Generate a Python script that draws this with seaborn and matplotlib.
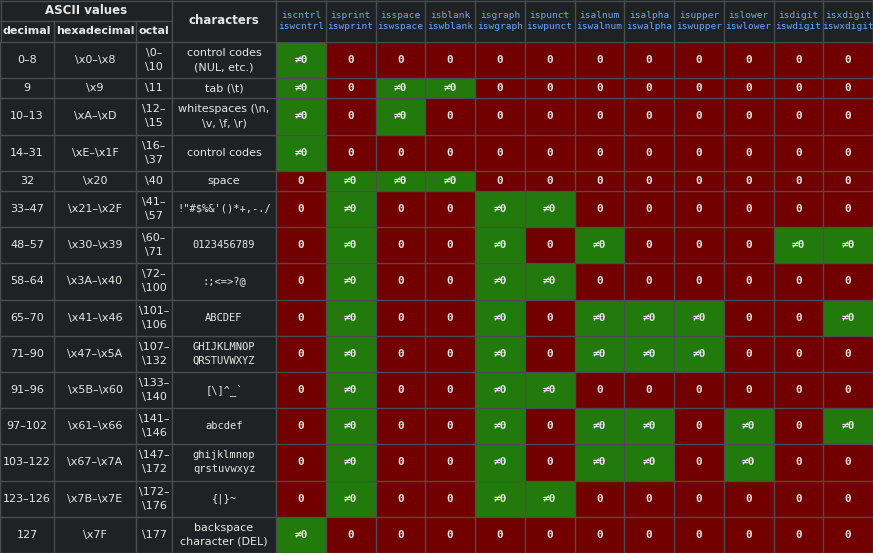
import numpy as np
import pandas as pd
import seaborn as sns
import matplotlib.pyplot as plt
from matplotlib.colors import ListedColormap

sns.set_theme(style="dark")
plt.rcParams['font.family'] = ['DejaVu Sans']

functions = ["iscntrl\niswcntrl", "isprint\niswprint", "isspace\niswspace", "isblank\niswblank",
             "isgraph\niswgraph", "ispunct\niswpunct", "isalnum\niswalnum", "isalpha\niswalpha",
             "isupper\niswupper", "islower\niswlower", "isdigit\niswdigit", "isxdigit\niswxdigit"]
decimal = ["0–8", "9", "10–13", "14–31", "32", "33–47", "48–57", "58–64", "65–70", "71–90",
           "91–96", "97–102", "103–122", "123–126", "127"]
hexadecimal = ["\\x0–\\x8", "\\x9", "\\xA–\\xD", "\\xE–\\x1F", "\\x20", "\\x21–\\x2F", "\\x30–\\x39",
               "\\x3A–\\x40", "\\x41–\\x46", "\\x47–\\x5A", "\\x5B–\\x60", "\\x61–\\x66",
               "\\x67–\\x7A", "\\x7B–\\x7E", "\\x7F"]
octal = ["\\0–\n\\10", "\\11", "\\12–\n\\15", "\\16–\n\\37", "\\40", "\\41–\n\\57", "\\60–\n\\71",
         "\\72–\n\\100", "\\101–\n\\106", "\\107–\n\\132", "\\133–\n\\140", "\\141–\n\\146",
         "\\147–\n\\172", "\\172–\n\\176", "\\177"]
characters = ["control codes\n(NUL, etc.)", "tab (\\t)", "whitespaces (\\n,\n\\v, \\f, \\r)",
              "control codes", "space", "!\"#$%&'()*+,-./", "0123456789", ":;<=>?@", "ABCDEF",
              "GHIJKLMNOP\nQRSTUVWXYZ", "[\\]^_`", "abcdef", "ghijklmnop\nqrstuvwxyz", "{|}~",
              "backspace\ncharacter (DEL)"]
mono_chars = [False, False, False, False, False, True, True, True, True, True, True, True, True, True, False]
values = [
    [1,0,0,0,0,0,0,0,0,0,0,0],
    [1,0,1,1,0,0,0,0,0,0,0,0],
    [1,0,1,0,0,0,0,0,0,0,0,0],
    [1,0,0,0,0,0,0,0,0,0,0,0],
    [0,1,1,1,0,0,0,0,0,0,0,0],
    [0,1,0,0,1,1,0,0,0,0,0,0],
    [0,1,0,0,1,0,1,0,0,0,1,1],
    [0,1,0,0,1,1,0,0,0,0,0,0],
    [0,1,0,0,1,0,1,1,1,0,0,1],
    [0,1,0,0,1,0,1,1,1,0,0,0],
    [0,1,0,0,1,1,0,0,0,0,0,0],
    [0,1,0,0,1,0,1,1,0,1,0,1],
    [0,1,0,0,1,0,1,1,0,1,0,0],
    [0,1,0,0,1,1,0,0,0,0,0,0],
    [1,0,0,0,0,0,0,0,0,0,0,0],
]
row_units = [9, 5, 9, 9, 5] + [9] * 10

BG = "#1f2224"; GRID = "#4a4d50"; TXT = "#e6e6e6"; BLUE = "#6ea6f2"
GREEN = "#237a0c"; RED = "#720000"

W, H = 873, 553
fig = plt.figure(figsize=(W / 100, H / 100), dpi=100, facecolor=BG)

tab = fig.add_axes([0, 0, 1, 1])
tab.set_xlim(0, W); tab.set_ylim(H, 0); tab.axis("off")

hx0 = 276
top = 42
unit = (H - top) / sum(row_units)
edges = [top]
for u in row_units:
    edges.append(edges[-1] + u * unit)

expanded = np.repeat(np.array(values), row_units, axis=0)
df = pd.DataFrame(expanded, columns=functions)
hm = fig.add_axes([hx0 / W, 0, (W - hx0) / W, (H - top) / H])
sns.heatmap(df, ax=hm, cmap=ListedColormap([RED, GREEN]), vmin=0, vmax=1, cbar=False,
            xticklabels=False, yticklabels=False)
ncol = len(functions)
cum = np.concatenate([[0], np.cumsum(row_units)])
for i, row in enumerate(values):
    yc = (cum[i] + cum[i + 1]) / 2
    for j, v in enumerate(row):
        hm.text(j + 0.5, yc, "≠0" if v else "0", ha="center", va="center", color=TXT,
                fontsize=8, family="DejaVu Sans Mono", fontweight="bold")
for y in cum:
    hm.axhline(y, color=GRID, lw=1)
for x in range(ncol + 1):
    hm.axvline(x, color=GRID, lw=1)

cols = [0, 54, 136, 172, hx0]
cw = (W - hx0) / ncol
for i in range(len(values)):
    y0, y1 = edges[i], edges[i + 1]
    yc = (y0 + y1) / 2
    for k, txt in enumerate([decimal[i], hexadecimal[i], octal[i]]):
        tab.text((cols[k] + cols[k + 1]) / 2, yc, txt, ha="center", va="center", color=TXT,
                 fontsize=8, linespacing=1.5)
    tab.text((cols[3] + cols[4]) / 2, yc, characters[i], ha="center", va="center", color=TXT,
             fontsize=8 if not mono_chars[i] else 7.5, linespacing=1.5,
             family="DejaVu Sans Mono" if mono_chars[i] else "DejaVu Sans")
for y in edges:
    tab.plot([0, hx0], [y, y], color=GRID, lw=1)
tab.plot([0, W], [0.5, 0.5], color=GRID, lw=1)
tab.plot([0, 172], [21, 21], color=GRID, lw=1)
for x in cols:
    tab.plot([x, x], [top, H], color=GRID, lw=1)
for x in [0.5, 172, hx0]:
    tab.plot([x, x], [0, top], color=GRID, lw=1)
for x in [54, 136]:
    tab.plot([x, x], [21, top], color=GRID, lw=1)
for j in range(ncol + 1):
    x = hx0 + j * cw
    tab.plot([x, x], [0, top], color=GRID, lw=1)
tab.plot([W - 0.5, W - 0.5], [0, H], color=GRID, lw=1)

tab.text(86, 11, "ASCII values", ha="center", va="center", color=TXT, fontsize=8.5, fontweight="bold")
for k, name in enumerate(["decimal", "hexadecimal", "octal"]):
    tab.text((cols[k] + cols[k + 1]) / 2, 31.5, name, ha="center", va="center", color=TXT,
             fontsize=8, fontweight="bold")
tab.text(224, 21, "characters", ha="center", va="center", color=TXT, fontsize=8.5, fontweight="bold")
for j, f in enumerate(functions):
    tab.text(hx0 + (j + 0.5) * cw, 21, f, ha="center", va="center", color=BLUE,
             fontsize=6.8, family="DejaVu Sans Mono", linespacing=1.3)

fig.savefig("out.png", dpi=100, facecolor=BG)
